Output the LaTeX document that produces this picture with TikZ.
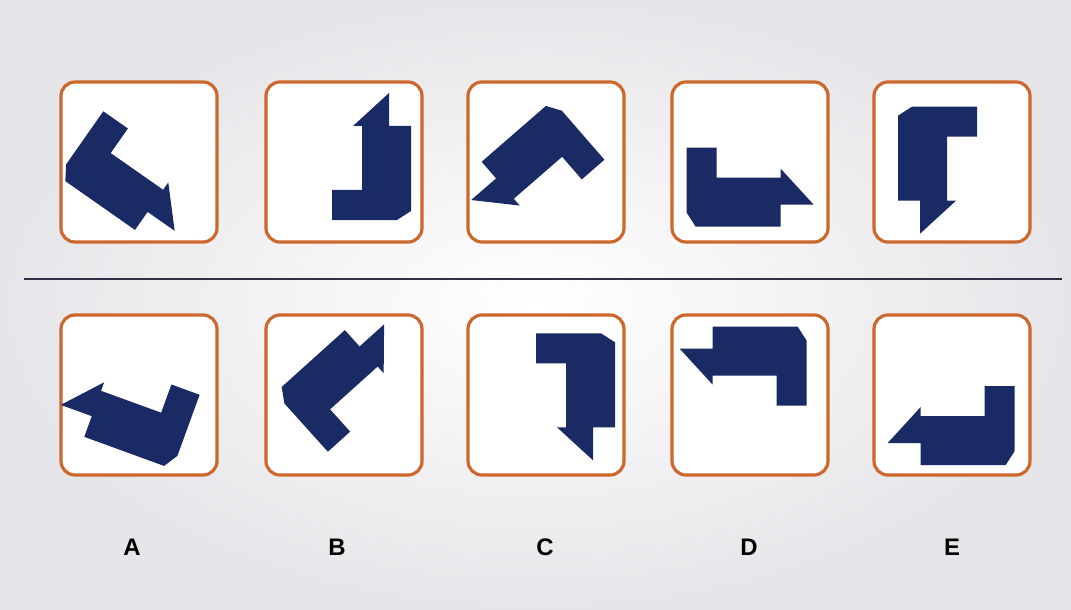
\documentclass[tikz,border=0pt]{standalone}
\usepackage{fontspec}
\setsansfont{Liberation Sans}
\usetikzlibrary{positioning}
\definecolor{puzzlenavy}{RGB}{26,42,100}
\definecolor{puzzleorange}{RGB}{204,104,44}
\definecolor{puzzlerule}{RGB}{45,48,70}
\definecolor{puzzlebg}{RGB}{230,230,234}
% one bent arrow piece, outer corner at the origin, arrow along +x
\newcommand{\bentarrow}{(0,-79) -- (30,-79) -- (30,-49) -- (94,-49) -- (94,-58)
    -- (127,-22) -- (94,-22) -- (94,0) -- (9,0) -- (0,-14) -- cycle}

\begin{document}
\begin{tikzpicture}[x=0.025cm, y=-0.025cm,
    cardbox/.style={draw=puzzleorange, line width=0.08cm, fill=white,
                    rounded corners=0.35cm, minimum width=3.9cm,
                    minimum height=4cm, inner sep=0pt},
    piece/.style={fill=puzzlenavy},
    optlabel/.style={font=\sffamily\bfseries\fontsize{17}{20}\selectfont},
]
\useasboundingbox (0,0) rectangle (1071,610);
\shade[inner color=white, outer color=puzzlebg] (0,0) rectangle (1071,610);

\foreach \cx/\nm in {139/A,344/B,546/C,750/D,952/E} {
    \node[cardbox] (top\nm) at (\cx,162) {};
    \node[cardbox] (bot\nm) at (\cx,395) {};
}

\coordinate (ruleL) at (24,279);
\coordinate (ruleR) at (1062,279);
\draw[puzzlerule, line width=0.045cm] (ruleL) -- (ruleR);

% pieces: origin x / origin y / turn / mirror
\foreach \ox/\oy/\ang/\flip in {58/176/35/1, 411/220/-90/1, 552.6/100.1/139/1,
        686.7/226.7/0/1, 898/106.7/90/1,
        172.6/469/200/-1, 275/393/-42/-1, 615/333.3/90/-1,
        806.7/326.7/180/1, 1014.7/465/180/-1} {
    \begin{scope}[shift={(\ox,\oy)}, rotate=-\ang, yscale=\flip]
        \fill[piece] \bentarrow;
    \end{scope}
}

\foreach \lx/\nm in {132/A,337/B,545/C,749/D,952/E}
    \node[optlabel] (lab\nm) at (\lx,547) {\nm};
\end{tikzpicture}
\end{document}
